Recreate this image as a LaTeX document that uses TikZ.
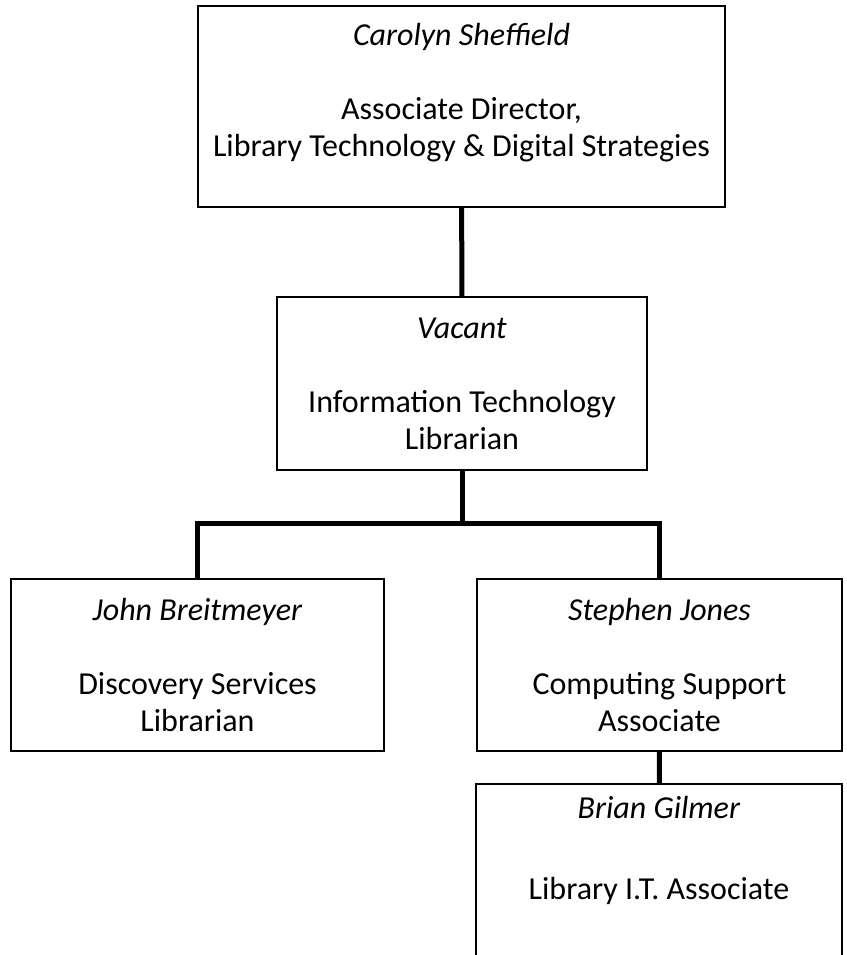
\documentclass[tikz,border=0pt]{standalone}
\usepackage{fontspec}
\setmainfont{Carlito}
\usetikzlibrary{positioning}
\newcommand{\lowstrut}[1]{\rule[-#1]{0pt}{#1}}

\tikzset{
  orgbox/.style={draw, line width=1.5pt, align=center, inner sep=0pt, font=\fontsize{32}{37}\selectfont},
  orgline/.style={line width=5pt}
}

\begin{document}
\begin{tikzpicture}[x=1pt, y=-1pt]
\clip (0,0) rectangle (846,955);
\node[orgbox, minimum width=527pt, minimum height=201pt] (dir) at (461.5,106.5) {\textit{Carolyn Sheffield}\\[37pt]Associate Director,\\Library Technology \& Digital Strategies\lowstrut{34pt}};
\node[orgbox, minimum width=370pt, minimum height=173pt] (itlib) at (462,383.5) {\textit{Vacant}\\[37pt]Information Technology\\Librarian};
\node[orgbox, minimum width=373pt, minimum height=172pt] (disc) at (197.5,665) {\textit{John Breitmeyer}\\[37pt]Discovery Services\\Librarian};
\node[orgbox, minimum width=365pt, minimum height=172pt] (comp) at (659.5,665) {\textit{Stephen Jones}\\[37pt]Computing Support\\Associate};
\node[orgbox, minimum width=366pt, minimum height=226pt] (libit) at (659,897) {\textit{Brian Gilmer}\\[44pt]Library I.T. Associate\lowstrut{98pt}};
\coordinate (bar) at (0,523);
% reporting lines
\draw[orgline] (dir) -- (itlib);
\draw[orgline] (itlib.south) -- (itlib.south |- bar);
\draw[orgline] (disc.north) -- (disc.north |- bar) -- (comp.north |- bar) -- (comp.north);
\draw[orgline] (comp) -- (libit);
\end{tikzpicture}
\end{document}
